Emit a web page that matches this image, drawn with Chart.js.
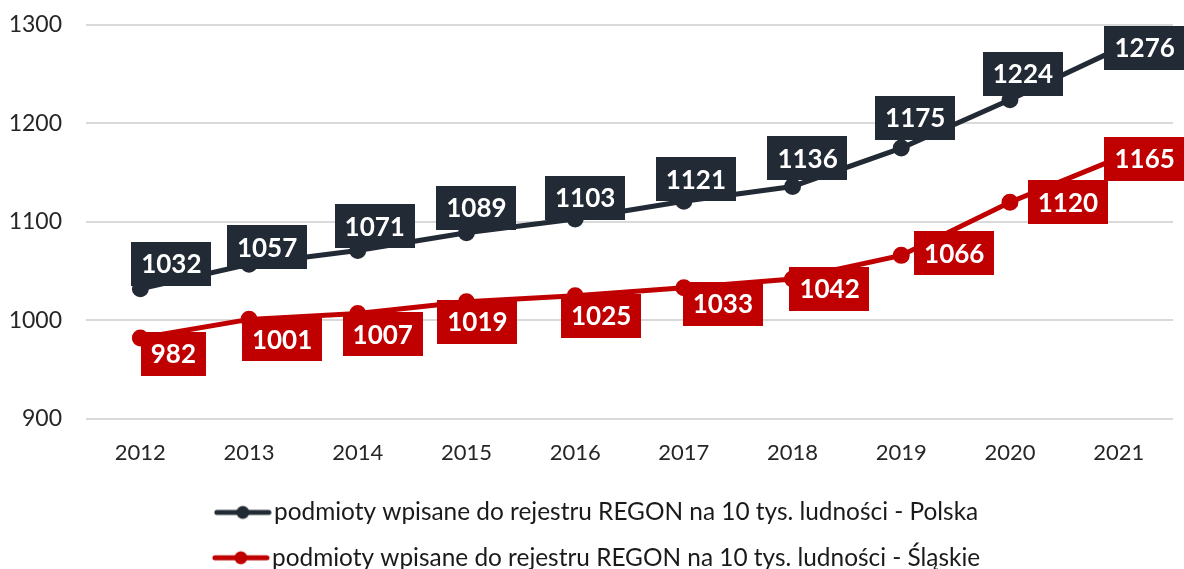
<!DOCTYPE html>
<html><head><meta charset="utf-8">
<script src="https://cdn.jsdelivr.net/npm/chart.js@4.4.1/dist/chart.umd.min.js"></script>
<style>html,body{margin:0;padding:0;background:#fff;}#wrap{width:1184px;height:569px;position:relative;}</style>
</head><body><div id="wrap"><canvas id="c" width="1184" height="569"></canvas></div>
<script>
const years = ['2012','2013','2014','2015','2016','2017','2018','2019','2020','2021'];
const polska = [1032,1057,1071,1089,1103,1121,1136,1175,1224,1276];
const slaskie = [982,1001,1007,1019,1025,1033,1042,1066,1120,1165];
const seriesNames = ['podmioty wpisane do rejestru REGON na 10 tys. ludności - Polska','podmioty wpisane do rejestru REGON na 10 tys. ludności - Śląskie'];
const yTicks = [900,1000,1100,1200,1300];

const DARK = '#222a35', RED = '#c00000';
const FONT = 'Lato, "Open Sans", sans-serif';

// label offsets (px) relative to each point, per series
const labelOffsets = [
  [[31,-25],[18,-17],[17,-24],[10,-25],[10,-21],[12,-22],[15,-28],[14,-30],[13,-26],[26,-1]],
  [[33,16],[33,20],[25,21],[11,20],[26,20],[39,16],[37,10],[53,-2],[58,0],[26,1]]
];

function legendIcon(color){
  const c = document.createElement('canvas'); c.width = 58; c.height = 16;
  const g = c.getContext('2d');
  g.strokeStyle = color; g.lineWidth = 5; g.lineCap = 'round';
  g.beginPath(); g.moveTo(3,8); g.lineTo(55,8); g.stroke();
  g.fillStyle = color; g.beginPath(); g.arc(29,8,6.5,0,Math.PI*2); g.fill();
  return c;
}

const boxLabels = {
  id:'boxLabels',
  afterLayout(chart){
    if (chart.legend){ chart.legend.left += 14; chart.legend.right += 14; }
  },
  afterDatasetsDraw(chart){
    const ctx = chart.ctx;
    ctx.save();
    ctx.font = 'bold 26px ' + FONT;
    ctx.textAlign = 'center'; ctx.textBaseline = 'middle';
    chart.data.datasets.forEach((ds,di)=>{
      const meta = chart.getDatasetMeta(di);
      meta.data.forEach((pt,i)=>{
        const txt = String(ds.data[i]);
        const off = labelOffsets[di][i];
        const cx = pt.x + off[0], cy = pt.y + off[1];
        const w = ctx.measureText(txt).width + 20, h = 44;
        ctx.fillStyle = ds.borderColor;
        ctx.fillRect(Math.round(cx - w/2), Math.round(cy - h/2), Math.round(w), h);
        ctx.fillStyle = '#ffffff';
        ctx.fillText(txt, cx, cy + 1);
      });
    });
    ctx.restore();
  }
};

new Chart(document.getElementById('c'), {
  type:'line',
  data:{
    labels: years,
    datasets:[
      {label: seriesNames[0], data: polska, borderColor: DARK, backgroundColor: DARK, borderWidth:5, pointRadius:6, pointHoverRadius:6, pointStyle:'circle', tension:0},
      {label: seriesNames[1], data: slaskie, borderColor: RED, backgroundColor: RED, borderWidth:5, pointRadius:6, pointHoverRadius:6, pointStyle:'circle', tension:0}
    ]
  },
  options:{
    responsive:false, animation:false,
    layout:{padding:{left:0,right:10,top:25,bottom:-11}},
    plugins:{
      tooltip:{enabled:false},
      legend:{
        position:'bottom',
        labels:{
          usePointStyle:true,
          pointStyleWidth:38,
          generateLabels(chart){
            return chart.data.datasets.map((ds,i)=>({text: ds.label, pointStyle: legendIcon(ds.borderColor), fillStyle: ds.borderColor, strokeStyle: ds.borderColor, lineWidth:0, datasetIndex:i, fontColor:'#1a1a1a'}));
          },
          font:{family:FONT,size:24.4},
          color:'#1a1a1a',
          padding:21,
          boxHeight:16
        }
      }
    },
    scales:{
      x:{
        offset:true,
        grid:{display:false},
        border:{display:false},
        ticks:{font:{family:FONT,size:22},color:'#262626',padding:13}
      },
      y:{
        min:900,max:1300,
        afterBuildTicks(s){ s.ticks = yTicks.map(v=>({value:v})); },
        afterFit(s){ s.width = 86; s.paddingTop = 0; s.paddingBottom = 0; },
        grid:{color:'#d9d9d9',lineWidth:2,drawTicks:false},
        border:{display:false},
        ticks:{font:{family:FONT,size:23},color:'#262626',padding:24,callback:(v)=>String(v)}
      }
    }
  },
  plugins:[boxLabels]
});
</script></body></html>
